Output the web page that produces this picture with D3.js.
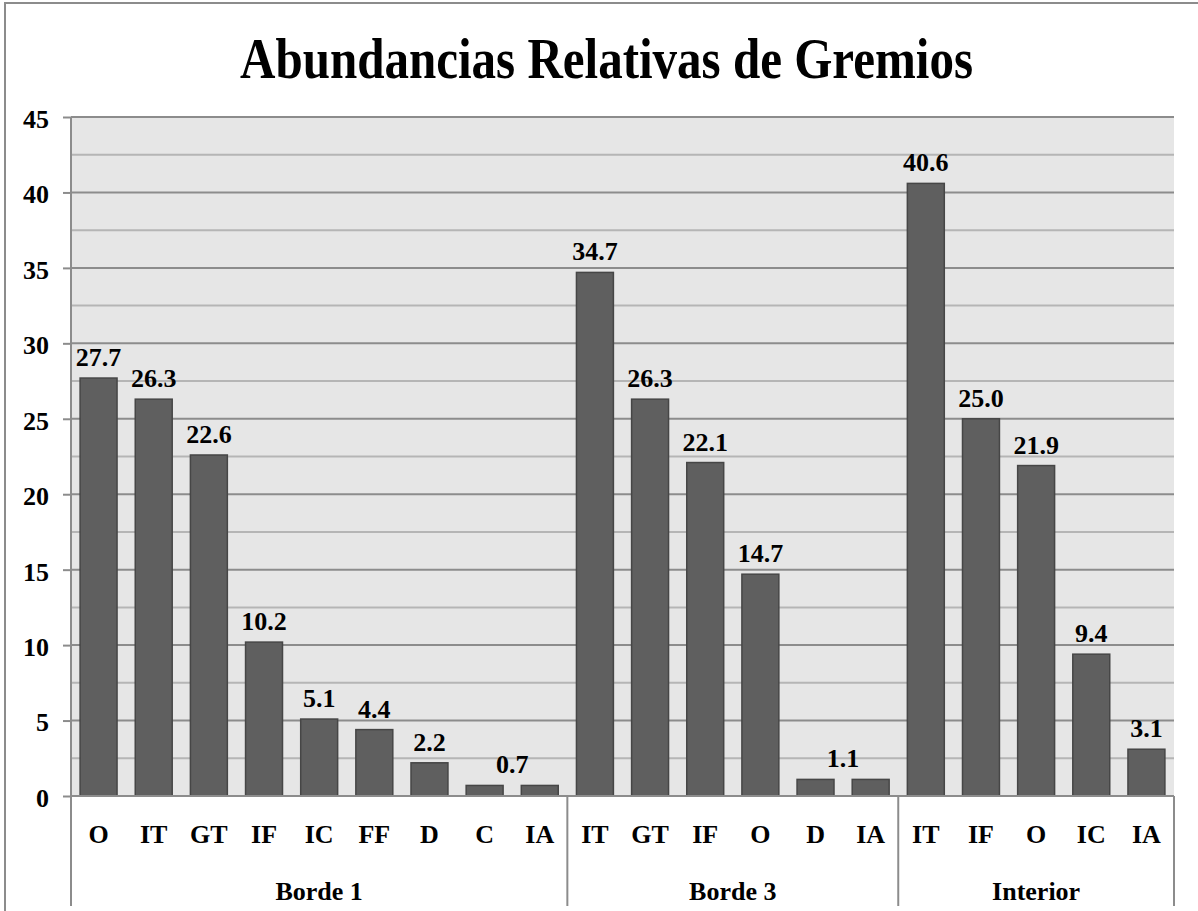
<!DOCTYPE html>
<html>
<head>
<meta charset="utf-8">
<script src="https://cdn.jsdelivr.net/npm/d3@7"></script>
<style>
  body { margin: 0; background: #fff; }
  text { font-family: "Liberation Serif", "Times New Roman", serif; font-weight: bold; fill: #000; }
</style>
</head>
<body>
<div id="chart"></div>
<script>
// data
const groups = ["Borde 1", "Borde 3", "Interior"];
const borde1Cats = ["O", "IT", "GT", "IF", "IC", "FF", "D", "C", "IA"];
const borde1Vals = [27.7, 26.3, 22.6, 10.2, 5.1, 4.4, 2.2, 0.7, 0.7];
const borde3Cats = ["IT", "GT", "IF", "O", "D", "IA"];
const borde3Vals = [34.7, 26.3, 22.1, 14.7, 1.1, 1.1];
const interiorCats = ["IT", "IF", "O", "IC", "IA"];
const interiorVals = [40.6, 25.0, 21.9, 9.4, 3.1];
const yTicks = [0, 5, 10, 15, 20, 25, 30, 35, 40, 45];
const title = "Abundancias Relativas de Gremios";

const catsByGroup = [borde1Cats, borde3Cats, interiorCats];
const valsByGroup = [borde1Vals, borde3Vals, interiorVals];

let rows = [];
groups.forEach((g, gi) => {
  catsByGroup[gi].forEach((c, i) => {
    rows.push({group: g, cat: c, value: valsByGroup[gi][i], key: g + "|" + c, idx: i});
  });
});

const width = 1198, height = 911;
const margin = {top: 117, right: 24, bottom: 115, left: 71};
const innerW = 1174 - margin.left, innerH = 796 - margin.top;

const svg = d3.select("#chart").append("svg")
  .attr("width", width).attr("height", height);

// outer chart border (runs off the right and bottom edges)
svg.append("rect")
  .attr("x", 5).attr("y", 3)
  .attr("width", width + 10).attr("height", height + 10)
  .attr("fill", "#fff").attr("stroke", "#8c8c8c").attr("stroke-width", 2);

svg.append("text")
  .attr("x", 240).attr("y", 78)
  .attr("font-size", 57)
  .attr("textLength", 733).attr("lengthAdjust", "spacingAndGlyphs")
  .text(title);

const g = svg.append("g").attr("transform", `translate(${margin.left},${margin.top})`);

const x = d3.scaleBand()
  .domain(rows.map(d => d.key))
  .range([0, innerW])
  .paddingInner(0.33)
  .paddingOuter(0.165);

const y = d3.scaleLinear().domain([0, 45]).range([innerH, 0]);

// plot background
g.append("rect").attr("width", innerW).attr("height", innerH).attr("fill", "#e6e6e6");

// minor gridlines
const minor = d3.range(2.5, 45, 5);
g.selectAll(".minor").data(minor).enter().append("line")
  .attr("x1", 0).attr("x2", innerW)
  .attr("y1", d => y(d)).attr("y2", d => y(d))
  .attr("stroke", "#b5b5b5").attr("stroke-width", 2);

// major gridlines
g.selectAll(".major").data(yTicks.filter(d => d > 0)).enter().append("line")
  .attr("x1", 0).attr("x2", innerW)
  .attr("y1", d => y(d)).attr("y2", d => y(d))
  .attr("stroke", "#8c8c8c").attr("stroke-width", 2);

// y axis
const yAxis = g.append("g")
  .call(d3.axisLeft(y).tickValues(yTicks).tickSize(8).tickPadding(14).tickFormat(d3.format("d")));
yAxis.select(".domain").remove();
yAxis.selectAll(".tick line").attr("stroke", "#8c8c8c").attr("stroke-width", 2);
yAxis.selectAll(".tick text")
  .attr("font-family", "Liberation Serif, serif").attr("font-weight", "bold")
  .attr("font-size", 26).attr("fill", "#000").attr("dy", "0.4em");

// left axis line, extends through the category rows
g.append("line").attr("x1", 0).attr("x2", 0).attr("y1", 0).attr("y2", innerH + 110)
  .attr("stroke", "#8c8c8c").attr("stroke-width", 2);

// bars
g.selectAll(".bar").data(rows).enter().append("rect")
  .attr("x", d => x(d.key))
  .attr("y", d => y(d.value))
  .attr("width", x.bandwidth())
  .attr("height", d => innerH - y(d.value))
  .attr("fill", "#5f5f5f")
  .attr("stroke", "#464646").attr("stroke-width", 1.5);

// value labels: a pair of equal neighbouring bars shares one label
const labels = rows.filter((d, i) => !(rows[i + 1] && rows[i + 1].group === d.group && rows[i + 1].value === d.value));
g.selectAll(".val").data(labels).enter().append("text")
  .attr("x", d => {
    const i = rows.indexOf(d);
    const prev = rows[i - 1];
    const cx = x(d.key) + x.bandwidth() / 2;
    if (prev && prev.group === d.group && prev.value === d.value) return (cx + x(prev.key) + x.bandwidth() / 2) / 2;
    return cx;
  })
  .attr("y", d => y(d.value) - 12)
  .attr("text-anchor", "middle")
  .attr("font-size", 26)
  .text(d => d.value.toFixed(1));

// zero axis line
g.append("line").attr("x1", 0).attr("x2", innerW).attr("y1", innerH).attr("y2", innerH)
  .attr("stroke", "#8c8c8c").attr("stroke-width", 2);

// category labels
g.selectAll(".cat").data(rows).enter().append("text")
  .attr("x", d => x(d.key) + x.bandwidth() / 2)
  .attr("y", innerH + 47)
  .attr("text-anchor", "middle")
  .attr("font-size", 26)
  .text(d => d.cat);

// group separators and labels
const step = x.step();
let start = 0;
groups.forEach((grp, gi) => {
  const n = catsByGroup[gi].length;
  const x0 = start * step, x1 = (start + n) * step;
  g.append("line").attr("x1", x1).attr("x2", x1).attr("y1", innerH).attr("y2", innerH + 110)
    .attr("stroke", "#8c8c8c").attr("stroke-width", 2);
  g.append("text")
    .attr("x", (x0 + x1) / 2).attr("y", innerH + 104)
    .attr("text-anchor", "middle")
    .attr("font-size", 26)
    .text(grp);
  start += n;
});
</script>
</body>
</html>
